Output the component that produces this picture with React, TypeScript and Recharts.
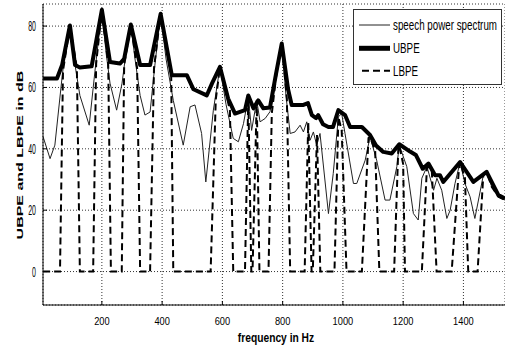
import React from 'react';
import { LineChart, Line, XAxis, YAxis, CartesianGrid, Legend } from 'recharts';

const FONT = "'Liberation Sans', Arial, sans-serif";

const xTicks = [200, 400, 600, 800, 1000, 1200, 1400];
const yTicks = [0, 20, 40, 60, 80];

const specFreq = [5, 28, 44, 68, 81, 94, 111, 127, 158, 177, 200, 214, 227, 249, 267, 280, 296, 310, 327, 343, 360, 376, 395, 413, 437, 470, 493, 509, 531, 545, 570, 592, 612, 636, 653, 670, 686, 697, 714, 725, 742, 758, 778, 797, 811, 825, 841, 858, 869, 880, 891, 902, 913, 924, 952, 968, 985, 996, 1007, 1035, 1046, 1074, 1090, 1112, 1140, 1156, 1179, 1187, 1212, 1234, 1250, 1262, 1279, 1301, 1312, 1328, 1345, 1356, 1372, 1389, 1405, 1422, 1438, 1466, 1477, 1494, 1516, 1538];
const specDb = [43.9, 36.8, 41.2, 63.4, 74.3, 79.9, 67.3, 57.4, 47.7, 65.3, 85.3, 71.3, 61.4, 52.6, 61.4, 71.3, 80.5, 69.3, 57.4, 51.0, 52.0, 67.3, 84.0, 69.3, 55.8, 41.2, 53.7, 54.3, 45.0, 29.2, 52.6, 66.7, 54.5, 43.4, 42.3, 48.2, 56.9, 46.0, 55.8, 48.8, 49.9, 52.1, 63.4, 74.3, 57.4, 45.0, 45.5, 47.7, 45.5, 48.8, 42.8, 45.5, 41.2, 45.0, 18.9, 32.0, 50.4, 51.5, 45.0, 28.7, 28.7, 36.3, 43.9, 36.3, 23.3, 23.3, 34.2, 41.2, 34.2, 18.9, 16.8, 30.4, 34.2, 26.5, 30.4, 26.5, 17.3, 20.0, 28.7, 35.7, 28.7, 24.4, 17.3, 31.4, 32.5, 27.6, 24.4, 23.3];

const ubpeFreq = [5, 51, 68, 94, 111, 127, 166, 200, 227, 260, 274, 296, 327, 360, 395, 432, 482, 504, 548, 566, 592, 619, 642, 675, 686, 703, 719, 736, 758, 778, 797, 818, 830, 869, 884, 897, 911, 918, 934, 952, 967, 985, 1007, 1024, 1063, 1090, 1110, 1134, 1162, 1187, 1223, 1242, 1265, 1284, 1306, 1322, 1333, 1389, 1433, 1477, 1516, 1538];
const ubpeDb = [62.9, 62.9, 67.3, 80.2, 67.3, 66.5, 66.9, 85.3, 68.3, 67.8, 69.3, 80.5, 67.3, 67.3, 84.0, 64.0, 64.0, 59.4, 57.4, 61.4, 66.7, 56.4, 51.5, 52.6, 57.4, 53.2, 55.8, 53.2, 53.5, 64.4, 74.3, 59.4, 54.3, 54.3, 54.9, 51.0, 50.0, 51.0, 48.0, 47.1, 47.1, 52.6, 51.0, 47.1, 47.1, 44.5, 41.1, 39.0, 38.5, 41.5, 39.1, 38.0, 33.5, 35.2, 31.4, 31.4, 29.2, 35.7, 29.2, 32.5, 24.9, 23.8];

const lbpeFreq = [5, 61, 71, 94, 117, 127, 171, 181, 200, 221, 230, 266, 274, 296, 317, 327, 360, 373, 395, 430, 437, 561, 578, 592, 625, 636, 675, 686, 696, 700, 714, 723, 753, 764, 778, 797, 814, 825, 873, 885, 896, 900, 914, 925, 972, 985, 996, 1012, 1063, 1085, 1090, 1107, 1121, 1170, 1184, 1187, 1200, 1206, 1262, 1279, 1295, 1311, 1361, 1384, 1389, 1405, 1416, 1447, 1466, 1477, 1494, 1516, 1538];
const lbpeDb = [0, 0, 65.5, 79.9, 66.5, 0, 0, 67.8, 85.3, 67.8, 0, 0, 67.3, 80.5, 66.3, 0, 0, 66.3, 84.0, 64.3, 0, 0, 56.0, 66.7, 52.5, 0, 0, 56.9, 0, 0, 55.8, 0, 0, 51.5, 63.4, 74.3, 56.4, 0, 0, 48.5, 0, 0, 44.5, 0, 0, 50.4, 46.0, 0, 0, 43.5, 43.9, 39.5, 0, 0, 40.5, 41.2, 35.0, 0, 0, 34.2, 33.0, 0, 0, 32.0, 35.7, 30.5, 0, 0, 31.4, 32.5, 27.6, 24.4, 23.3];

const toData = (fs: number[], vs: number[]) => fs.map((f, i) => ({ f, v: vs[i] }));
const specData = toData(specFreq, specDb);
const ubpeData = toData(ubpeFreq, ubpeDb);
const lbpeData = toData(lbpeFreq, lbpeDb);

const seriesNames = ['speech power spectrum', 'UBPE', 'LBPE'];

function XTick(props: any) {
  const { x, y, payload } = props;
  return (
    <g>
      <line x1={x} x2={x} y1={y} y2={y - 4} stroke="#000" strokeWidth={1} />
      <text transform={`translate(${x},${y + 20}) scale(0.8,1)`} textAnchor="middle" fontSize={11.6} fontFamily={FONT} fill="#000">
        {payload.value}
      </text>
    </g>
  );
}

function TopTick(props: any) {
  const { x, y } = props;
  return <line x1={x} x2={x} y1={y} y2={y + 4} stroke="#000" strokeWidth={1} />;
}

function YTick(props: any) {
  const { x, y, payload } = props;
  return (
    <g>
      <line x1={x} x2={x + 4} y1={y} y2={y} stroke="#000" strokeWidth={1} />
      <text transform={`translate(${x - 7},${y + 5}) scale(0.5,1)`} textAnchor="end" fontSize={14} fontFamily={FONT} fill="#000">
        {payload.value}
      </text>
    </g>
  );
}

function LegendBox() {
  const rows = [16, 39.3, 61.7];
  return (
    <svg width={149} height={76} style={{ display: 'block' }}>
      <rect x={0.5} y={0.5} width={148} height={75} fill="#fff" stroke="#333" strokeWidth={1} />
      <line x1={6} x2={37} y1={rows[0]} y2={rows[0]} stroke="#222" strokeWidth={1} />
      <line x1={6} x2={37} y1={rows[1]} y2={rows[1]} stroke="#000" strokeWidth={5} />
      <line x1={9} x2={37} y1={rows[2]} y2={rows[2]} stroke="#000" strokeWidth={2} strokeDasharray="7 4" />
      {seriesNames.map((n, i) => (
        <text key={n} transform={`translate(40,${rows[i] + 5}) scale(0.7,1)`} fontSize={14} fontFamily={FONT} fill="#000">
          {n}
        </text>
      ))}
    </svg>
  );
}

export default function App() {
  return (
    <div style={{ position: 'absolute', left: 0, top: 0, width: 505, height: 350, background: '#fff' }}>
      <LineChart width={505} height={350} margin={{ top: 4, right: 0, bottom: 0, left: 0 }}>
        <CartesianGrid stroke="#333" strokeDasharray="1 2" />
        <XAxis
          dataKey="f"
          type="number"
          domain={[4.6, 1538]}
          allowDataOverflow
          ticks={xTicks}
          tick={<XTick />}
          tickLine={false}
          tickSize={0}
          tickMargin={0}
          height={45}
          axisLine={{ stroke: '#000' }}
          label={{
            content: () => (
              <text transform="translate(276,342) scale(0.76,1)" textAnchor="middle" fontSize={13.5} fontWeight="bold" fontFamily={FONT} fill="#000">
                frequency in Hz
              </text>
            ),
          }}
        />
        <XAxis
          xAxisId="top"
          orientation="top"
          dataKey="f"
          type="number"
          domain={[4.6, 1538]}
          allowDataOverflow
          ticks={xTicks}
          tick={<TopTick />}
          tickLine={false}
          tickSize={0}
          tickMargin={0}
          height={0}
          axisLine={{ stroke: '#000' }}
        />
        <YAxis
          type="number"
          domain={[-10.9, 87.2]}
          allowDataOverflow
          ticks={yTicks}
          tick={<YTick />}
          tickLine={false}
          tickSize={0}
          tickMargin={0}
          width={43}
          axisLine={{ stroke: '#000' }}
          label={{
            content: () => (
              <text transform="translate(22.5,155) scale(0.55,1) rotate(-90)" textAnchor="middle" fontSize={16} fontWeight="bold" fontFamily={FONT} fill="#000">
                UBPE and LBPE  in dB
              </text>
            ),
          }}
        />
        <Line data={specData} dataKey="v" name={seriesNames[0]} type="linear" stroke="#222" strokeWidth={1} dot={false} isAnimationActive={false} />
        <Line data={ubpeData} dataKey="v" name={seriesNames[1]} type="linear" stroke="#000" strokeWidth={4} strokeLinejoin="round" dot={false} isAnimationActive={false} />
        <Line data={lbpeData} dataKey="v" name={seriesNames[2]} type="linear" stroke="#000" strokeWidth={2} strokeDasharray="7 4" dot={false} isAnimationActive={false} />
        <Legend
          layout="vertical"
          align="center"
          verticalAlign="middle"
          content={<LegendBox />}
          wrapperStyle={{ position: 'absolute', left: 353, top: 9, width: 149, height: 76 }}
        />
      </LineChart>
    </div>
  );
}
